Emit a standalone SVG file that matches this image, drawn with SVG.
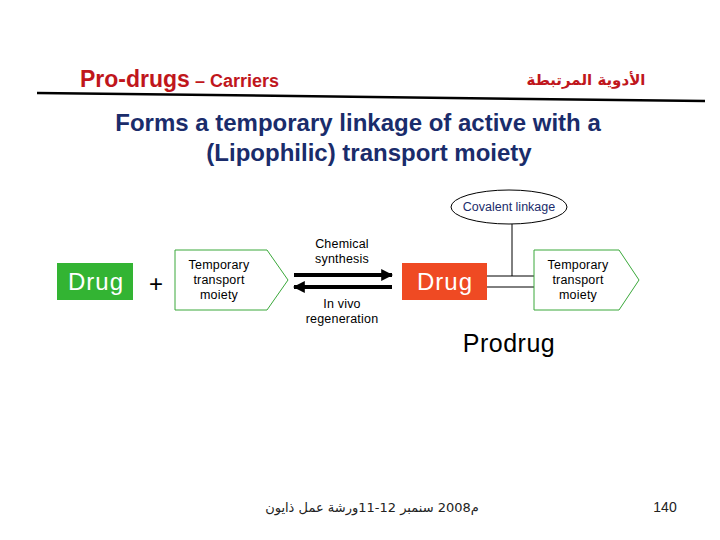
<svg xmlns="http://www.w3.org/2000/svg" width="720" height="540" viewBox="0 0 720 540">
<style>
.sans{font-family:"Liberation Sans",Arial,sans-serif}
.hdr{fill:#c0161c;font-weight:bold}
.title{fill:#1a2c6b;font-weight:bold;font-size:24px}
.small{font-size:12.5px;fill:#000;letter-spacing:0.2px}
.boxtxt{fill:#fff;font-size:24px;letter-spacing:1px}
.moiety{fill:#fff;stroke:#3aa83a;stroke-width:1}
.ln{stroke:#000;stroke-width:1;fill:none}
.arr{stroke:#000;stroke-width:4;fill:none}
</style>
<defs>
<marker id="ah" viewBox="0 0 10 10" refX="9" refY="5" markerWidth="3" markerHeight="3.2" orient="auto" markerUnits="strokeWidth">
<path d="M0,0 L10,5 L0,10 Z" fill="#000"/>
</marker>
</defs>
<rect width="720" height="540" fill="#fff"/>
<g id="header">
<text class="sans hdr" x="80" y="87"><tspan font-size="23">Pro-drugs</tspan><tspan font-size="18"> – Carriers</tspan></text>
<text class="hdr" x="586" y="85" text-anchor="middle" font-size="15" font-family="'DejaVu Sans','Noto Sans',sans-serif">الأدوية المرتبطة</text>
<path d="M37,93 L705,101" stroke="#000" stroke-width="2.5"/>
</g>
<g id="title">
<text class="sans title" x="358" y="131" text-anchor="middle">Forms a temporary linkage of active with a</text>
<text class="sans title" x="369" y="161" text-anchor="middle">(Lipophilic) transport moiety</text>
</g>
<g id="connectors">
<line class="arr" x1="294" y1="275" x2="392" y2="275" marker-end="url(#ah)"/>
<line class="arr" x1="392" y1="287" x2="294" y2="287" marker-end="url(#ah)"/>
<line class="ln" x1="487" y1="276" x2="535" y2="276"/>
<line class="ln" x1="487" y1="287" x2="535" y2="287"/>
<line class="ln" x1="512" y1="224" x2="512" y2="276"/>
</g>
<g id="covalent">
<ellipse cx="509" cy="207" rx="58" ry="17" fill="#fff" stroke="#000" stroke-width="1"/>
<text class="sans" x="509" y="211" text-anchor="middle" font-size="12.5" fill="#1a2c6b">Covalent linkage</text>
</g>
<g id="drug1">
<rect x="57" y="263" width="76" height="37" fill="#33b433"/>
<text class="sans boxtxt" x="96" y="290" text-anchor="middle">Drug</text>
</g>
<g id="plus">
<text class="sans" x="156" y="292" text-anchor="middle" font-size="24">+</text>
</g>
<g id="moiety1">
<polygon class="moiety" points="175,250 267,250 288,280 267,310 175,310"/>
<text class="sans small" text-anchor="middle"><tspan x="219" y="269">Temporary</tspan><tspan x="219" y="284">transport</tspan><tspan x="219" y="299">moiety</tspan></text>
</g>
<g id="synthesis">
<text class="sans small" text-anchor="middle"><tspan x="342" y="248">Chemical</tspan><tspan x="342" y="263">synthesis</tspan></text>
</g>
<g id="regeneration">
<text class="sans small" text-anchor="middle"><tspan x="342" y="308">In vivo</tspan><tspan x="342" y="323">regeneration</tspan></text>
</g>
<g id="drug2">
<rect x="402" y="263" width="85" height="37" fill="#ef4a23"/>
<text class="sans boxtxt" x="445" y="290" text-anchor="middle">Drug</text>
</g>
<g id="moiety2">
<polygon class="moiety" points="534,250 619,250 639,280 619,310 534,310"/>
<text class="sans small" text-anchor="middle"><tspan x="578" y="269">Temporary</tspan><tspan x="578" y="284">transport</tspan><tspan x="578" y="299">moiety</tspan></text>
</g>
<g id="prodrug">
<text class="sans" x="509" y="352" text-anchor="middle" font-size="25" letter-spacing="0.5">Prodrug</text>
</g>
<g id="footer">
<text x="372" y="512" text-anchor="middle" font-size="13" fill="#222" font-family="'DejaVu Sans','Noto Sans',sans-serif">م2008 سنمبر 12-11ورشة عمل ذايون</text>
<text class="sans" x="665" y="512" text-anchor="middle" font-size="14" fill="#222">140</text>
</g>
</svg>
